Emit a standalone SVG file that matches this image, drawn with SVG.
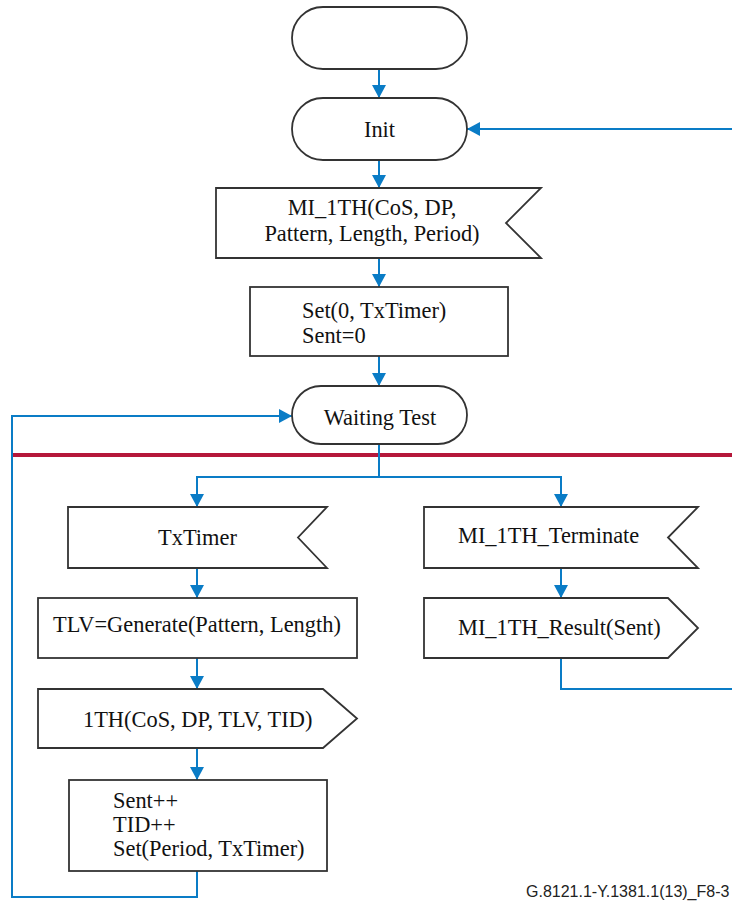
<svg xmlns="http://www.w3.org/2000/svg" width="732" height="901" viewBox="0 0 732 901">
<defs>
<marker id="ah" markerWidth="14" markerHeight="14" viewBox="0 0 14 14" refX="13" refY="7" orient="auto" markerUnits="userSpaceOnUse">
<path d="M0,0 L13,7 L0,14 Z" fill="#0a7cc6"/>
</marker>
</defs>
<style>
.n{fill:#fff;stroke:#333;stroke-width:1.8}
.t{font-family:"Liberation Serif","Times New Roman",Times,serif;font-size:22.4px;fill:#111}
.c{fill:none;stroke:#0a7cc6;stroke-width:2}
.a{marker-end:url(#ah)}
</style>
<rect width="732" height="901" fill="#fff"/>
<line x1="11" y1="455" x2="732" y2="455" stroke="#b5173a" stroke-width="4"/>
<g id="connectors">
<path class="c a" d="M379,69 V98"/>
<path class="c a" d="M732,129 H467"/>
<path class="c a" d="M379,160 V188"/>
<path class="c a" d="M379,258 V287"/>
<path class="c a" d="M379,356 V386"/>
<path class="c" d="M379,444 V477"/>
<path class="c a" d="M379,477 H197 V507"/>
<path class="c a" d="M379,477 H561 V507"/>
<path class="c a" d="M197,568 V598"/>
<path class="c a" d="M197,658 V689"/>
<path class="c a" d="M197,748 V780"/>
<path class="c a" d="M197,871 V897 H12 V416 H292"/>
<path class="c a" d="M561,568 V598"/>
<path class="c" d="M561,658 V689 H732"/>
</g>
<g id="start"><rect class="n" x="292" y="7" width="175" height="62" rx="31"/></g>
<g id="init"><rect class="n" x="292" y="98" width="175" height="62" rx="31"/><text class="t" x="379.5" y="137" text-anchor="middle">Init</text></g>
<g id="mi1th"><path class="n" d="M216,188 H541 L506,223 L541,258 H216 Z"/><text class="t" x="372" y="215" text-anchor="middle">MI_1TH(CoS, DP,</text><text class="t" x="372" y="241" text-anchor="middle">Pattern, Length, Period)</text></g>
<g id="setinit"><rect class="n" x="250" y="287" width="258" height="69"/><text class="t" x="302" y="318">Set(0, TxTimer)</text><text class="t" x="302" y="343">Sent=0</text></g>
<g id="waiting"><rect class="n" x="292" y="386" width="175" height="58" rx="29"/><text class="t" x="380" y="425" text-anchor="middle">Waiting Test</text></g>
<g id="txtimer"><path class="n" d="M68,507 H327 L298,537.5 L327,568 H68 Z"/><text class="t" x="197.5" y="545" text-anchor="middle">TxTimer</text></g>
<g id="tlv"><rect class="n" x="38" y="598" width="319" height="60"/><text class="t" x="53" y="632">TLV=Generate(Pattern, Length)</text></g>
<g id="send1th"><path class="n" d="M38,689 H323 L357,718.5 L323,748 H38 Z"/><text class="t" x="83" y="727">1TH(CoS, DP, TLV, TID)</text></g>
<g id="incr"><rect class="n" x="69" y="780" width="258" height="91"/><text class="t" x="113" y="808">Sent++</text><text class="t" x="113" y="832">TID++</text><text class="t" x="113" y="856">Set(Period, TxTimer)</text></g>
<g id="terminate"><path class="n" d="M424,507 H698 L668,537.5 L698,568 H424 Z"/><text class="t" x="458" y="543">MI_1TH_Terminate</text></g>
<g id="result"><path class="n" d="M424,598 H668 L698,628 L668,658 H424 Z"/><text class="t" x="458" y="635">MI_1TH_Result(Sent)</text></g>
<text x="526" y="897" font-family="'Liberation Sans',Arial,sans-serif" font-size="16" fill="#222">G.8121.1-Y.1381.1(13)_F8-3</text>
</svg>
